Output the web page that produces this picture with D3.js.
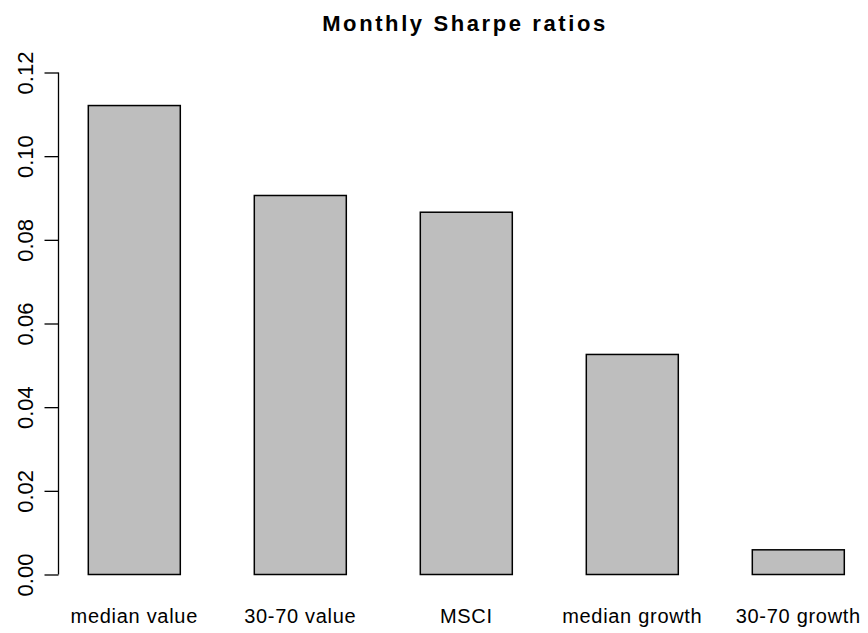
<!DOCTYPE html>
<html>
<head>
<meta charset="utf-8">
<script src="https://cdn.jsdelivr.net/npm/d3@7"></script>
<style>
  html, body { margin: 0; padding: 0; background: #fff; }
  svg { display: block; }
  text { font-family: "Liberation Sans", Arial, sans-serif; fill: #000; }
</style>
</head>
<body>
<svg id="chart" width="868" height="633"></svg>
<script>
// Monthly Sharpe ratio by portfolio
const categories = ["median value", "30-70 value", "MSCI", "median growth", "30-70 growth"];
const sharpe = [0.1121, 0.0906, 0.0866, 0.0526, 0.0059];
const yTicks = [0.00, 0.02, 0.04, 0.06, 0.08, 0.10, 0.12];
const title = "Monthly Sharpe ratios";

const svg = d3.select("#chart");

const y = d3.scaleLinear().domain([0, 0.12]).range([574.5, 72.5]);
const x = d3.scaleBand()
  .domain(categories)
  .range([51.3, 881.3])
  .paddingInner(0.4458)
  .paddingOuter(0.2229);

// bars
svg.append("g")
  .selectAll("rect")
  .data(categories)
  .join("rect")
  .attr("x", d => x(d))
  .attr("width", x.bandwidth())
  .attr("y", (d, i) => y(sharpe[i]))
  .attr("height", (d, i) => y(0) - y(sharpe[i]))
  .attr("fill", "#bebebe")
  .attr("stroke", "#000")
  .attr("stroke-width", 1.5);

// y axis
const yAxis = d3.axisLeft(y)
  .tickValues(yTicks)
  .tickFormat(d3.format(".2f"))
  .tickSize(14)
  .tickPadding(0);

const ga = svg.append("g")
  .attr("transform", "translate(58.5,0)")
  .call(yAxis);
ga.select(".domain")
  .attr("d", `M0,${y(0)}V${y(0.12)}`)
  .attr("stroke", "#000")
  .attr("stroke-width", 1.3);
ga.selectAll(".tick line").attr("stroke", "#000").attr("stroke-width", 1.3);
ga.selectAll(".tick text")
  .attr("x", null).attr("dy", null)
  .attr("transform", "translate(-26,0) rotate(-90)")
  .attr("text-anchor", "middle")
  .attr("font-size", 22)
  .attr("font-family", "'Liberation Sans', Arial, sans-serif")
  .attr("fill", "#000");

// category labels
svg.append("g")
  .selectAll("text")
  .data(categories)
  .join("text")
  .attr("x", d => x(d) + x.bandwidth() / 2)
  .attr("y", 623)
  .attr("text-anchor", "middle")
  .attr("font-size", 20)
  .attr("letter-spacing", 0.7)
  .text(d => d);

// title
svg.append("text")
  .attr("x", 465)
  .attr("y", 30.5)
  .attr("text-anchor", "middle")
  .attr("font-size", 22)
  .attr("font-weight", "bold")
  .attr("letter-spacing", 2.6)
  .text(title);
</script>
</body>
</html>
